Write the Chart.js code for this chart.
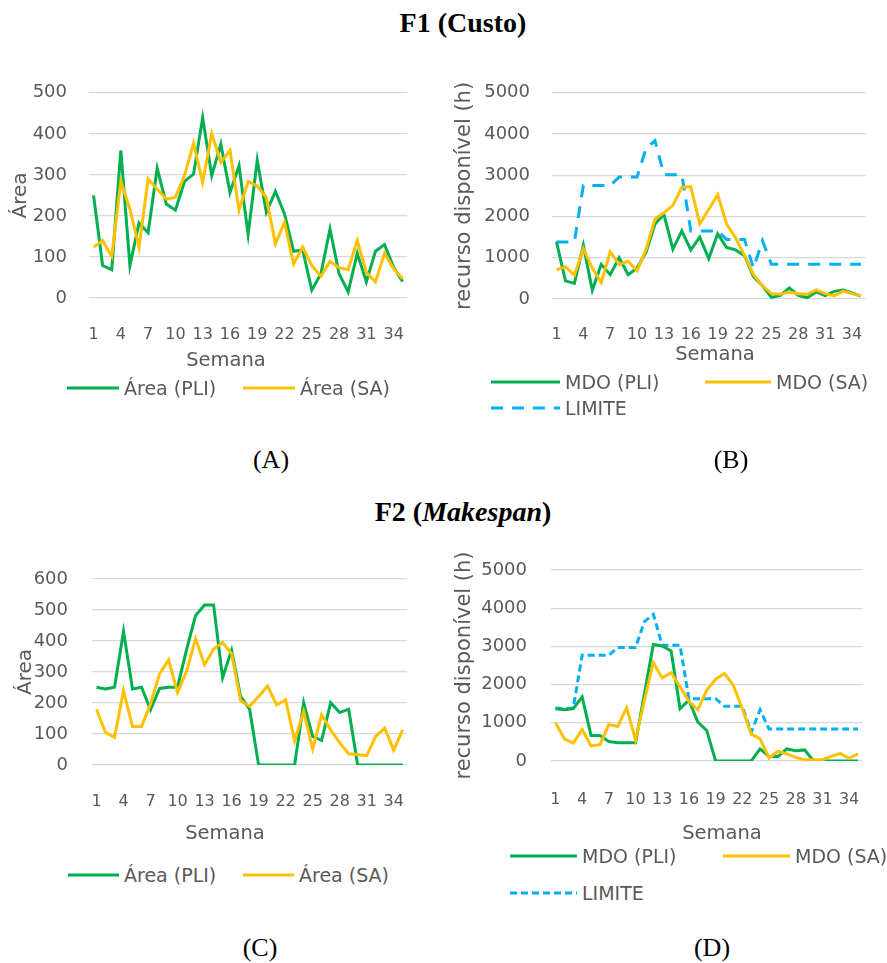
<!DOCTYPE html>
<html>
<head>
<meta charset="utf-8">
<script src="https://cdn.jsdelivr.net/npm/chart.js@4.4.1/dist/chart.umd.min.js"></script>
<style>
    body { margin: 0; background: #fff; }
    #page { position: relative; width: 887px; height: 963px; overflow: hidden; font-family: "DejaVu Sans", sans-serif; color: #595959; }
    .box { position: absolute; }
    .txt { position: absolute; transform: translate(-50%, -50%); white-space: nowrap; }
    .title { font-family: "Liberation Serif", serif; font-weight: bold; font-size: 28px; color: #000; }
    .caption { font-family: "Liberation Serif", serif; font-size: 26px; color: #000; }
    .axis { font-size: 19.5px; }
    .leg { position: absolute; display: flex; align-items: center; transform: translateY(-50%); font-size: 19px; white-space: nowrap; }
    .leg svg { display: block; }
</style>
</head>
<body>
<div id="page">
    <div class="txt title" style="left:463px;top:23px">F1 (Custo)</div>
    <div class="txt title" style="left:463px;top:512px">F2 (<i>Makespan</i>)</div>

    <div class="box" style="left:0;top:60px"><canvas id="chartA" width="430" height="300"></canvas></div>
    <div class="box" style="left:445px;top:60px"><canvas id="chartB" width="442" height="300"></canvas></div>
    <div class="box" style="left:0;top:530px"><canvas id="chartC" width="430" height="300"></canvas></div>
    <div class="box" style="left:445px;top:530px"><canvas id="chartD" width="442" height="300"></canvas></div>

    <div class="txt axis" style="left:226px;top:359px">Semana</div>
    <div class="txt axis" style="left:715px;top:353px">Semana</div>
    <div class="txt axis" style="left:225px;top:832px">Semana</div>
    <div class="txt axis" style="left:722px;top:832px">Semana</div>

    <div class="txt caption" style="left:271px;top:460px">(A)</div>
    <div class="txt caption" style="left:731px;top:460px">(B)</div>
    <div class="txt caption" style="left:260px;top:948px">(C)</div>
    <div class="txt caption" style="left:712px;top:948px">(D)</div>
</div>
<script>
// semanas 1..35
const weeks = ['1', '2', '3', '4', '5', '6', '7', '8', '9', '10', '11', '12', '13', '14', '15', '16', '17', '18',
    '19', '20', '21', '22', '23', '24', '25', '26', '27', '28', '29', '30', '31', '32', '33', '34', '35'];

// F1 (Custo)
const areaPliF1 = [250, 79, 69, 360, 79, 183, 159, 316, 229, 214, 284, 302, 439, 298, 375, 257, 322, 155, 336, 209,
    260, 205, 114, 117, 19, 59, 168, 59, 15, 109, 39, 114, 130, 75, 40];
const areaSaF1 = [124, 140, 101, 284, 217, 124, 290, 265, 241, 245, 298, 377, 282, 400, 330, 360, 214, 284, 273, 245,
    132, 184, 83, 124, 79, 53, 89, 74, 69, 140, 63, 39, 109, 71, 47];
const mdoPliF1 = [1385, 440, 380, 1300, 210, 840, 590, 1000, 590, 750, 1130, 1820, 2050, 1210, 1650, 1190, 1500, 980,
    1580, 1250, 1190, 1050, 540, 320, 40, 90, 270, 90, 30, 170, 80, 185, 220, 145, 70];
const mdoSaF1 = [710, 785, 580, 1220, 750, 400, 1150, 840, 915, 685, 1200, 1940, 2090, 2270, 2710, 2720, 1820, 2170,
    2530, 1820, 1480, 1050, 590, 320, 130, 115, 170, 130, 115, 220, 130, 75, 190, 130, 75];
const limiteF1 = [1385, 1385, 1385, 2750, 2750, 2750, 2750, 2960, 2960, 2960, 3650, 3840, 3015, 3015, 3015, 1650, 1650,
    1650, 1650, 1440, 1440, 1440, 750, 1415, 840, 840, 840, 840, 840, 840, 840, 840, 840, 840, 840];

// F2 (Makespan)
const areaPliF2 = [251, 245, 251, 431, 245, 251, 178, 247, 251, 251, 372, 482, 516, 516, 282, 370, 221, 180, 0, 0,
    0, 0, 0, 201, 92, 79, 201, 169, 180, 0, 0, 0, 0, 0, 0];
const areaSaF2 = [180, 105, 89, 240, 124, 124, 197, 294, 339, 234, 302, 408, 323, 374, 395, 359, 208, 189, 221, 255,
    194, 210, 78, 172, 52, 162, 113, 72, 36, 34, 30, 92, 119, 48, 113];
const mdoPliF2 = [1370, 1340, 1370, 1675, 670, 670, 510, 480, 480, 480, 1760, 3050, 3010, 2880, 1370, 1590, 1020, 800,
    0, 0, 0, 0, 0, 315, 120, 120, 315, 270, 290, 0, 0, 0, 0, 0, 0];
const mdoSaF2 = [1000, 580, 470, 825, 395, 430, 955, 905, 1395, 550, 1590, 2580, 2175, 2310, 1940, 1560, 1340, 1850,
    2140, 2290, 1980, 1370, 710, 580, 80, 255, 185, 95, 35, 35, 35, 120, 200, 70, 185];
const limiteF2 = [1385, 1370, 1385, 2770, 2770, 2770, 2770, 2970, 2970, 2970, 3650, 3840, 3030, 3030, 3030, 1630, 1630,
    1630, 1630, 1430, 1430, 1430, 750, 1340, 840, 840, 840, 840, 840, 840, 840, 840, 840, 840, 840];

const GREEN = '#00B050';
const YELLOW = '#FFC000';
const BLUE = '#00B0F0';
const TEXT = '#595959';

Chart.defaults.font.family = '"DejaVu Sans", sans-serif';

function series(label, data, color, order, dash) {
    return {
        label: label,
        data: data,
        borderColor: color,
        backgroundColor: color,
        borderWidth: 3,
        borderDash: dash || [],
        pointRadius: 0,
        tension: 0,
        fill: false,
        order: order
    };
}

function lineChart(canvasId, datasets, yMax, yStep, yTitle, lay) {
    return new Chart(document.getElementById(canvasId), {
        type: 'line',
        data: { labels: weeks, datasets: datasets },
        options: {
            responsive: false,
            animation: false,
            layout: { padding: { left: 0, right: lay.right, top: lay.top, bottom: 0 } },
            plugins: { legend: { display: false }, tooltip: { enabled: false } },
            scales: {
                x: {
                    offset: true,
                    grid: { display: false, drawTicks: false },
                    border: { display: false },
                    ticks: {
                        autoSkip: false,
                        maxRotation: 0,
                        padding: lay.xPad,
                        color: TEXT,
                        font: { size: 16 },
                        callback: (v, i) => (i % 3 === 0 ? weeks[i] : '')
                    },
                    afterFit: (s) => { s.height = lay.xH; }
                },
                y: {
                    min: 0,
                    max: yMax,
                    grid: { color: '#D9D9D9', lineWidth: 1.3, drawTicks: false },
                    border: { display: false },
                    ticks: {
                        stepSize: yStep,
                        padding: lay.yPad,
                        color: TEXT,
                        font: { size: 18 },
                        callback: (v) => String(v)
                    },
                    title: {
                        display: true,
                        text: yTitle,
                        color: TEXT,
                        font: { size: lay.tSize },
                        padding: { top: lay.tPad, bottom: 0 }
                    },
                    afterFit: (s) => { s.width = lay.yW; }
                }
            }
        }
    });
}

// legend entries, drawn as html under each chart
function legendItem(x, y, len, color, dash, text) {
    const el = document.createElement('div');
    el.className = 'leg';
    el.style.left = x + 'px';
    el.style.top = y + 'px';
    const dashAttr = dash ? ' stroke-dasharray="' + dash.join(' ') + '"' : '';
    el.innerHTML = '<svg width="' + len + '" height="6"><line x1="0" y1="3" x2="' + len + '" y2="3" stroke="' + color +
        '" stroke-width="3"' + dashAttr + '/></svg><span style="margin-left:5px">' + text + '</span>';
    document.getElementById('page').appendChild(el);
}

const dashB = [12, 9];
const dashD = [7, 4];

lineChart('chartA', [
    series('Área (PLI)', areaPliF1, GREEN, 2),
    series('Área (SA)', areaSaF1, YELLOW, 1)
], 500, 100, 'Área', { top: 32, right: 19, yW: 89, xH: 62, yPad: 22, xPad: 27, tPad: 9, tSize: 20 });

lineChart('chartB', [
    series('MDO (PLI)', mdoPliF1, GREEN, 2),
    series('MDO (SA)', mdoSaF1, YELLOW, 1),
    series('LIMITE', limiteF1, BLUE, 3, dashB)
], 5000, 1000, 'recurso disponível (h)', { top: 23, right: 3, yW: 107, xH: 61, yPad: 22, xPad: 26, tPad: 7, tSize: 21 });

lineChart('chartC', [
    series('Área (PLI)', areaPliF2, GREEN, 2),
    series('Área (SA)', areaSaF2, YELLOW, 1)
], 600, 100, 'Área', { top: 49, right: 21, yW: 92, xH: 65, yPad: 24, xPad: 27, tPad: 14, tSize: 20 });

lineChart('chartD', [
    series('MDO (PLI)', mdoPliF2, GREEN, 2),
    series('MDO (SA)', mdoSaF2, YELLOW, 1),
    series('LIMITE', limiteF2, BLUE, 3, dashD)
], 5000, 1000, 'recurso disponível (h)', { top: 40, right: 1, yW: 106, xH: 69, yPad: 24, xPad: 29, tPad: 7, tSize: 21 });

legendItem(67, 388, 52, GREEN, null, 'Área (PLI)');
legendItem(243, 388, 52, YELLOW, null, 'Área (SA)');

legendItem(491, 382, 69, GREEN, null, 'MDO (PLI)');
legendItem(705, 382, 66, YELLOW, null, 'MDO (SA)');
legendItem(491, 408, 69, BLUE, dashB, 'LIMITE');

legendItem(68, 875, 51, GREEN, null, 'Área (PLI)');
legendItem(243, 875, 51, YELLOW, null, 'Área (SA)');

legendItem(510, 856, 67, GREEN, null, 'MDO (PLI)');
legendItem(723, 856, 67, YELLOW, null, 'MDO (SA)');
legendItem(510, 893, 67, BLUE, dashD, 'LIMITE');
</script>
</body>
</html>
